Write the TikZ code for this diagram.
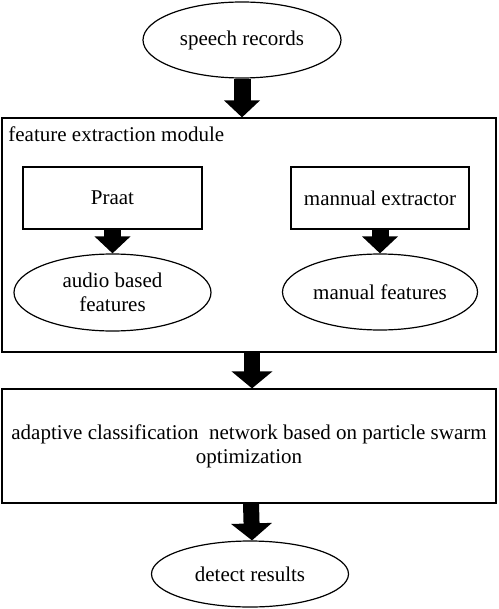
\documentclass[tikz,border=0pt]{standalone}
\usepackage{fontspec}
\setmainfont{Liberation Serif}
\usepackage{tikz}
\usetikzlibrary{arrows.meta,shapes.geometric}

\begin{document}
\begin{tikzpicture}[x=0.5pt,y=-0.5pt]
\tikzstyle{box}=[draw,line width=0.6pt,inner sep=2pt,align=center,font=\fontsize{10.5}{12}\selectfont]
\tikzstyle{oval}=[draw,ellipse,line width=0.6pt,inner sep=0pt,align=center,font=\fontsize{10.5}{12}\selectfont]
\tikzstyle{fat}=[line width=8.5pt,-{Triangle[length=8.5pt,width=17.5pt]}]
\tikzstyle{fatter}=[line width=8pt,-{Triangle[length=8.5pt,width=20pt]}]
\useasboundingbox (0,0) rectangle (498,609);
\node[oval,minimum width=99pt,minimum height=38pt] (sr) at (242,40) {speech records};
\node[box,minimum width=247pt,minimum height=117pt] (fe) at (249,235) {};
\node[anchor=base west,inner sep=0,font=\fontsize{10.5}{12}\selectfont] (fet) at (8,142) {feature extraction module};
\node[box,minimum width=89.5pt,minimum height=31pt] (pr) at (112.5,198) {Praat};
\node[box,minimum width=89pt,minimum height=31pt] (me) at (380,198) {mannual extractor};
\node[oval,minimum width=98.5pt,minimum height=38.5pt] (ab) at (112.5,292.5) {audio based\\features};
\node[oval,minimum width=97.5pt,minimum height=38pt] (mf) at (380,292) {manual features};
\node[box,minimum width=247pt,minimum height=57pt] (cl) at (249,446) {adaptive classification\ \ network based on particle swarm\\optimization};
\node[oval,minimum width=98.5pt,minimum height=33pt] (dr) at (250,574) {detect results};
\draw[fat] (sr.south) -- (sr.south |- fe.north);
\draw[fat] (pr.south) -- (ab.north);
\draw[fat] (me.south) -- (mf.north);
\draw[fatter] ([xshift=1.5pt]fe.south) -- ([xshift=1.5pt]cl.north);
\draw[fatter] ([xshift=1pt]cl.south) -- ([xshift=1pt]dr.north);
\end{tikzpicture}
\end{document}
